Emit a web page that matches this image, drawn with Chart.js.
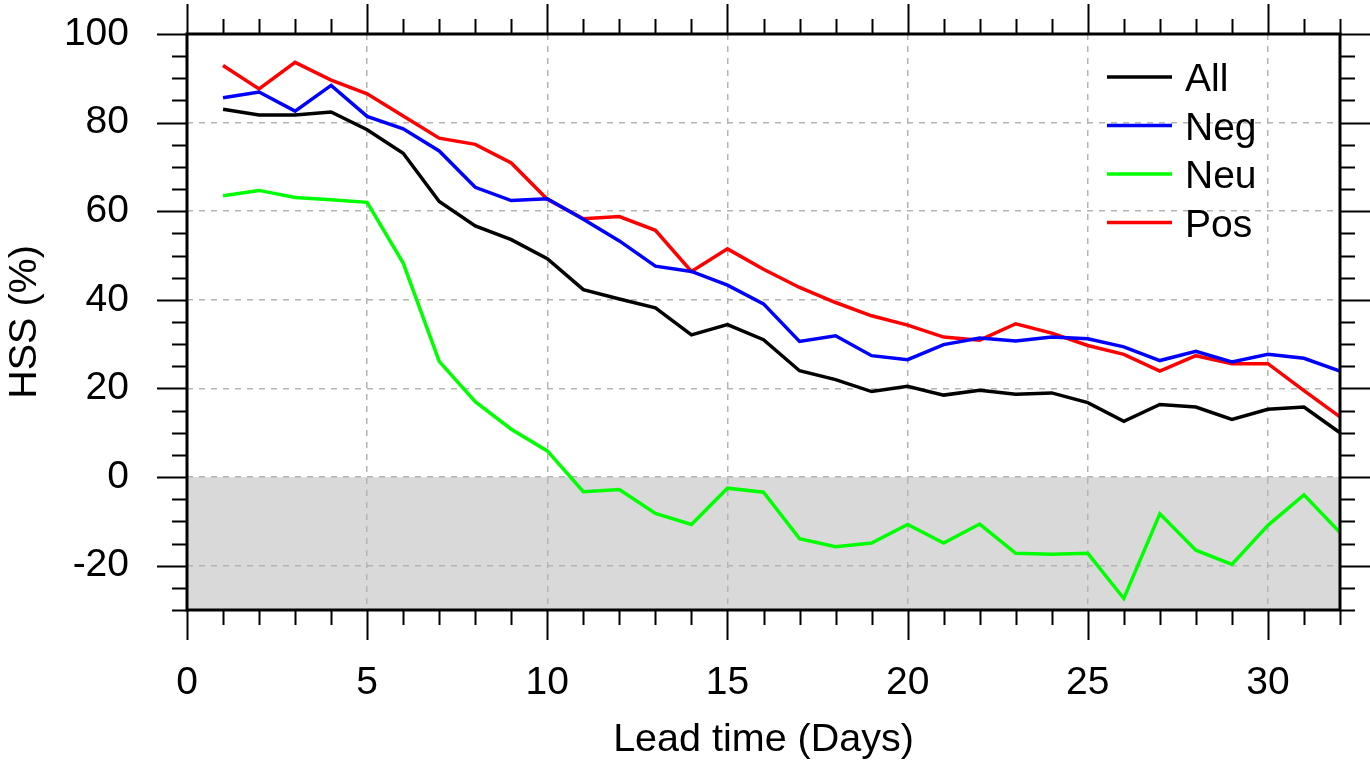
<!DOCTYPE html>
<html>
<head>
<meta charset="utf-8">
<script src="https://cdn.jsdelivr.net/npm/chart.js@4/dist/chart.umd.min.js"></script>
<style>
  html, body { margin: 0; padding: 0; background: #ffffff; }
  #wrap { width: 1370px; height: 764px; }
</style>
</head>
<body>
<div id="wrap"><canvas id="hssChart" width="1370" height="764"></canvas></div>
<script>
const leadDays = [1,2,3,4,5,6,7,8,9,10,11,12,13,14,15,16,17,18,19,20,21,22,23,24,25,26,27,28,29,30,31,32];

const hssAll = [83.0,81.7,81.7,82.4,78.4,73.1,62.2,56.7,53.6,49.3,42.3,40.2,38.2,32.1,34.4,31.0,
                24.0,22.0,19.3,20.5,18.5,19.6,18.7,19.0,16.8,12.6,16.4,15.8,13.0,15.3,15.8,10.0];
const hssNeg = [85.6,86.9,82.6,88.4,81.4,78.6,73.6,65.4,62.4,62.8,58.2,53.3,47.6,46.4,43.3,39.1,
                30.6,31.9,27.4,26.5,29.9,31.4,30.7,31.6,31.2,29.4,26.3,28.4,26.0,27.7,26.8,23.9];
const hssNeu = [63.5,64.7,63.1,62.6,62.0,48.3,26.1,17.0,10.8,5.9,-3.3,-2.8,-8.2,-10.7,-2.5,-3.4,
                -13.9,-15.7,-14.9,-10.7,-14.9,-10.6,-17.2,-17.4,-17.2,-27.4,-8.3,-16.5,-19.7,-10.9,-4.0,-12.5];
const hssPos = [92.9,87.6,93.6,89.6,86.5,81.5,76.5,75.1,70.9,62.7,58.3,58.8,55.7,46.4,51.5,46.9,
                42.8,39.4,36.4,34.3,31.6,30.9,34.6,32.5,29.7,27.7,23.9,27.4,25.6,25.6,19.5,13.6];

const seriesNames  = ['All', 'Neg', 'Neu', 'Pos'];
const seriesColors = ['#000000', '#0000ff', '#00ff00', '#ff0000'];

const xMajorTicks = [0,5,10,15,20,25,30];
const yMajorTicks = [-20,0,20,40,60,80,100];

const FONT = '"Liberation Sans", Arial, Helvetica, sans-serif';

function toPoints(vals) {
  return vals.map((v, i) => ({ x: leadDays[i], y: v }));
}

// grey shading below zero, drawn before the grid
const shadePlugin = {
  id: 'shade',
  beforeDraw(chart) {
    const { ctx, chartArea, scales } = chart;
    const y0 = scales.y.getPixelForValue(0);
    ctx.save();
    ctx.fillStyle = '#d9d9d9';
    ctx.fillRect(chartArea.left, y0, chartArea.right - chartArea.left, chartArea.bottom - y0);
    ctx.restore();
  }
};

// frame, outward ticks on all four sides, axis titles, legend
const framePlugin = {
  id: 'frame',
  afterDraw(chart) {
    const { ctx, chartArea, scales } = chart;
    const { left, right, top, bottom } = chartArea;
    const xs = scales.x, ys = scales.y;
    ctx.save();
    ctx.strokeStyle = '#000';
    ctx.lineCap = 'butt';

    ctx.lineWidth = 2;
    for (let d = 0; d <= 32; d++) {
      const px = Math.round(xs.getPixelForValue(d)) + 0.5;
      const len = d % 5 === 0 ? 30 : 15;
      ctx.beginPath();
      ctx.moveTo(px, bottom); ctx.lineTo(px, bottom + len);
      ctx.moveTo(px, top); ctx.lineTo(px, top - len);
      ctx.stroke();
    }
    for (let v = -30; v <= 100; v += 5) {
      const py = Math.round(ys.getPixelForValue(v)) + 0.5;
      const len = v % 20 === 0 ? 30 : 15;
      ctx.beginPath();
      ctx.moveTo(left, py); ctx.lineTo(left - len, py);
      ctx.moveTo(right, py); ctx.lineTo(right + len, py);
      ctx.stroke();
    }

    ctx.lineWidth = 3;
    ctx.strokeRect(left, top, right - left, bottom - top);

    // axis titles
    ctx.fillStyle = '#000';
    ctx.font = '39.5px ' + FONT;
    ctx.textAlign = 'center';
    ctx.textBaseline = 'middle';
    ctx.fillText('Lead time (Days)', (left + right) / 2, 740);
    ctx.save();
    ctx.translate(25, (top + bottom) / 2);
    ctx.rotate(-Math.PI / 2);
    ctx.fillText('HSS (%)', 0, 0);
    ctx.restore();

    // legend
    ctx.font = '39px ' + FONT;
    ctx.textAlign = 'left';
    ctx.textBaseline = 'alphabetic';
    seriesNames.forEach((name, i) => {
      const ly = 77 + i * 48.5;
      ctx.strokeStyle = seriesColors[i];
      ctx.lineWidth = 3.5;
      ctx.beginPath();
      ctx.moveTo(1107, ly); ctx.lineTo(1172, ly);
      ctx.stroke();
      ctx.fillStyle = '#000';
      ctx.fillText(name, 1185, ly + 14);
    });
    ctx.restore();
  }
};

const datasets = [hssAll, hssNeg, hssNeu, hssPos].map((vals, i) => ({
  label: seriesNames[i],
  data: toPoints(vals),
  borderColor: seriesColors[i],
  borderWidth: 3.5,
  pointRadius: 0,
  tension: 0,
  fill: false,
}));

const gridStyle = {
  color: '#b4b4b4',
  lineWidth: 1.5,
  drawTicks: false,
};

new Chart(document.getElementById('hssChart'), {
  type: 'line',
  data: { datasets },
  plugins: [shadePlugin, framePlugin],
  options: {
    responsive: false,
    animation: false,
    devicePixelRatio: 1,
    layout: { padding: { top: 34, right: 30, left: 0, bottom: 0 } },
    plugins: {
      legend: { display: false },
      tooltip: { enabled: false },
    },
    scales: {
      x: {
        type: 'linear',
        min: 0,
        max: 32,
        afterBuildTicks: (s) => { s.ticks = xMajorTicks.map(v => ({ value: v })); },
        afterFit: (s) => { s.height = 154; s.paddingLeft = 0; s.paddingRight = 0; },
        grid: gridStyle,
        border: { display: false, dash: [6, 6] },
        ticks: {
          color: '#000',
          padding: 50,
          maxRotation: 0,
          font: { family: FONT, size: 39 },
        },
      },
      y: {
        min: -30,
        max: 100,
        afterBuildTicks: (s) => { s.ticks = yMajorTicks.map(v => ({ value: v })); },
        afterFit: (s) => { s.width = 187; s.paddingTop = 0; s.paddingBottom = 0; },
        grid: gridStyle,
        border: { display: false, dash: [6, 6] },
        ticks: {
          color: '#000',
          padding: 58,
          font: { family: FONT, size: 39 },
        },
      },
    },
  },
});
</script>
</body>
</html>
